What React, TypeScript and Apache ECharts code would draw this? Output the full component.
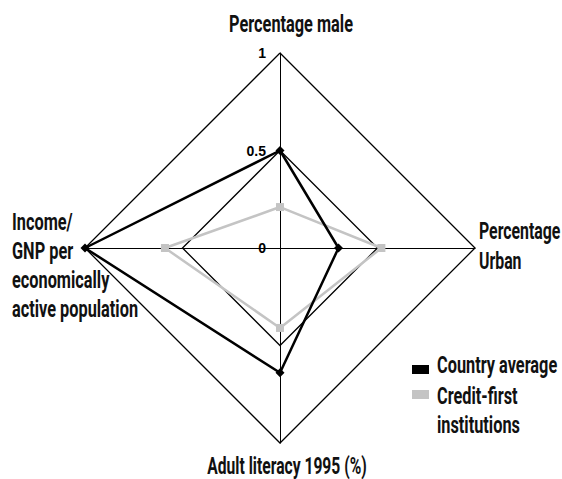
import React, { useEffect, useRef } from "react";
import * as echarts from "echarts";

const indicatorNames = [
  "Percentage male",
  "Income/\nGNP per\neconomically\nactive population",
  "Adult literacy 1995 (%)",
  "Percentage\nUrban",
];
const countryAverage = [0.5, 1.0, 0.64, 0.3];
const creditFirst = [0.21, 0.59, 0.41, 0.52];
const seriesNames = ["Country average", "Credit-first institutions"];
const legendLabels = ["Country average", "Credit-first\ninstitutions"];
const axisMin = 0;
const axisMax = 1;
const axisSplits = 2;

const FONT = "Roboto, 'Liberation Sans', sans-serif";
const SX = 0.68;

export default function App() {
  const ref = useRef<HTMLDivElement>(null);
  useEffect(() => {
    if (!ref.current) return;
    const chart = echarts.init(ref.current, null, { renderer: "svg" });
    const labelStyle = (extra: any) => ({
      fontFamily: FONT,
      fontSize: 24,
      fontWeight: "bold",
      fill: "#111",
      ...extra,
    });
    const legendBase = {
      orient: "vertical",
      left: 412,
      padding: 0,
      itemWidth: 17,
      itemHeight: 9,
      icon: "rect",
      formatter: () => "",
      textStyle: { fontSize: 1, lineHeight: 1 },
    };
    chart.setOption({
      animation: false,
      backgroundColor: "#fff",
      radar: {
        center: [280, 248],
        radius: 195,
        startAngle: 90,
        shape: "polygon",
        splitNumber: axisSplits,
        axisName: { show: false },
        splitLine: { lineStyle: { color: "#000", width: 1.3, opacity: 1 } },
        splitArea: { show: false },
        axisLine: { lineStyle: { color: "#000", width: 1, opacity: 1 } },
        axisTick: { show: false },
        axisLabel: { show: false },
        indicator: indicatorNames.map((name, i) => ({
          name,
          min: axisMin,
          max: axisMax,
          ...(i === 0
            ? {
                axisLabel: {
                  show: true,
                  color: "#000",
                  fontWeight: "bold",
                  fontSize: 14,
                  fontFamily: "'Liberation Sans', sans-serif",
                  margin: 14,
                },
              }
            : {}),
        })),
      },
      legend: [
        { ...legendBase, top: 365, data: [seriesNames[0]] },
        { ...legendBase, top: 390, data: [seriesNames[1]] },
      ],
      graphic: [
        { type: "text", x: 291, y: 24, scaleX: SX, style: labelStyle({ text: indicatorNames[0], align: "center", verticalAlign: "middle" }) },
        { type: "text", x: 12, y: 207, scaleX: SX, style: labelStyle({ text: indicatorNames[1], align: "left", verticalAlign: "top", lineHeight: 29 }) },
        { type: "text", x: 287, y: 466, scaleX: SX, style: labelStyle({ text: indicatorNames[2], align: "center", verticalAlign: "middle", fontSize: 23 }) },
        { type: "text", x: 479, y: 216, scaleX: 0.66, style: labelStyle({ text: indicatorNames[3], align: "left", verticalAlign: "top", lineHeight: 30 }) },
        { type: "text", x: 437, y: 350, scaleX: SX, style: labelStyle({ text: legendLabels[0], align: "left", verticalAlign: "top", lineHeight: 30 }) },
        { type: "text", x: 437, y: 381, scaleX: SX, style: labelStyle({ text: legendLabels[1], align: "left", verticalAlign: "top", lineHeight: 29 }) },
      ],
      series: [
        {
          type: "radar",
          name: seriesNames[0],
          symbol: "diamond",
          symbolSize: 9,
          lineStyle: { color: "#000", width: 2.5 },
          itemStyle: { color: "#000" },
          data: [{ value: countryAverage, name: seriesNames[0] }],
          z: 3,
        },
        {
          type: "radar",
          name: seriesNames[1],
          symbol: "rect",
          symbolSize: 8,
          lineStyle: { color: "#c4c4c4", width: 2.5 },
          itemStyle: { color: "#c4c4c4" },
          data: [{ value: creditFirst, name: seriesNames[1] }],
          z: 2,
        },
      ],
    });
    return () => chart.dispose();
  }, []);
  return (
    <div
      ref={ref}
      style={{ position: "fixed", left: 0, top: 0, width: 562, height: 479 }}
    />
  );
}
